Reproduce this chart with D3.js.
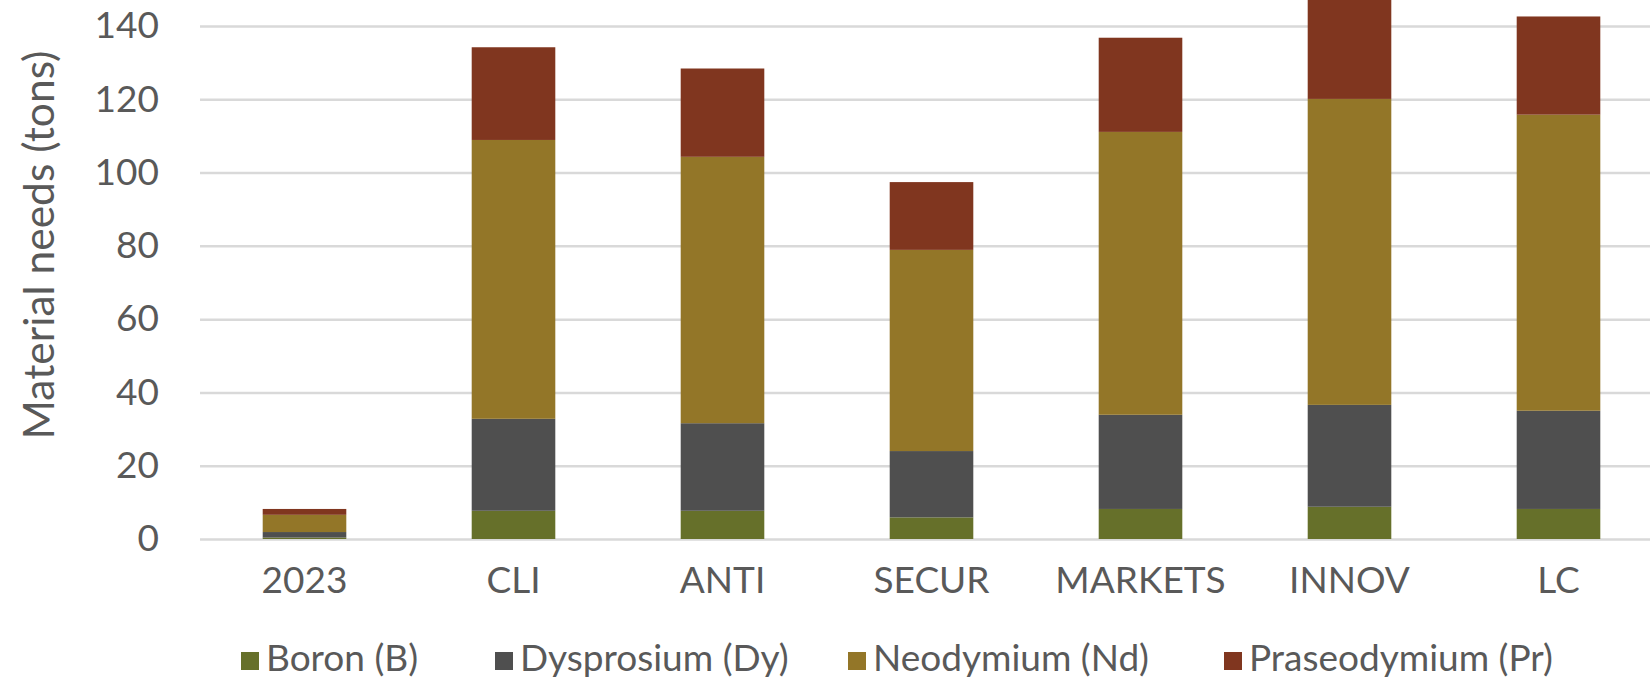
<!DOCTYPE html>
<html>
<head>
<meta charset="utf-8">
<script src="https://cdn.jsdelivr.net/npm/d3@7"></script>
<style>
  html, body { margin: 0; padding: 0; background: #fff; }
  svg { display: block; }
  text { font-family: Lato, "Open Sans", sans-serif; fill: #595959; }
</style>
</head>
<body>
<svg id="chart" width="1650" height="680"></svg>
<script>
// ---- data ----
const categories = ["2023", "CLI", "ANTI", "SECUR", "MARKETS", "INNOV", "LC"];
const seriesNames = ["Boron (B)", "Dysprosium (Dy)", "Neodymium (Nd)", "Praseodymium (Pr)"];
const boron        = [0.4, 7.7, 7.7, 5.9, 8.2, 8.8, 8.2];
const dysprosium   = [1.5, 25.1, 23.9, 18.1, 25.7, 27.8, 26.8];
const neodymium    = [4.7, 76.1, 72.7, 54.9, 77.2, 83.5, 80.8];
const praseodymium = [1.6, 25.3, 24.1, 18.5, 25.7, 28.0, 26.8];
const yTicks = [0, 20, 40, 60, 80, 100, 120, 140];
const colors = ["#66702a", "#4f4f4f", "#937628", "#80361f"];
const yTitle = "Material needs (tons)";

// ---- build table ----
const seriesValues = [boron, dysprosium, neodymium, praseodymium];
const keys = ["B", "Dy", "Nd", "Pr"];
const table = categories.map((c, i) => {
  const row = { cat: c };
  keys.forEach((k, j) => row[k] = seriesValues[j][i]);
  return row;
});
const stacked = d3.stack().keys(keys)(table);

const svg = d3.select("#chart");
const plotLeft = 200, plotRight = 1663, yZero = 539, yTop = 26;

const x = d3.scaleBand().domain(categories).range([plotLeft, plotRight])
  .paddingInner(0.6).paddingOuter(0.3);
const y = d3.scaleLinear().domain([0, 140]).range([yZero, yTop]);

// gridlines + y labels
const yAxis = svg.append("g")
  .attr("transform", `translate(${plotLeft},0)`)
  .call(d3.axisLeft(y).tickValues(yTicks).tickSize(-(plotRight - plotLeft)).tickPadding(41));
yAxis.select(".domain").remove();
yAxis.selectAll(".tick line").attr("stroke", "#d9d9d9").attr("stroke-width", 2.5);
yAxis.selectAll(".tick text").style("font-size", "37px").attr("fill", "#595959")
  .attr("font-family", "Lato");

// bars
svg.append("g").selectAll("g").data(stacked).join("g")
  .attr("fill", (d, i) => colors[i])
  .selectAll("rect").data(d => d).join("rect")
  .attr("x", d => x(d.data.cat))
  .attr("width", x.bandwidth())
  .attr("y", d => y(d[1]))
  .attr("height", d => y(d[0]) - y(d[1]));

// x labels
const xAxis = svg.append("g")
  .attr("transform", `translate(0,${yZero})`)
  .call(d3.axisBottom(x).tickSize(0).tickPadding(28));
xAxis.select(".domain").remove();
xAxis.selectAll(".tick text").style("font-size", "37px").attr("fill", "#595959")
  .attr("font-family", "Lato");

// y title
svg.append("text")
  .attr("transform", "translate(54,245) rotate(-90)")
  .attr("text-anchor", "middle")
  .style("font-size", "42.5px")
  .text(yTitle);

// legend
const legendX = [241, 495, 848, 1224];
const leg = svg.append("g").selectAll("g").data(seriesNames).join("g")
  .attr("transform", (d, i) => `translate(${legendX[i]},0)`);
leg.append("rect").attr("x", 0).attr("y", 652).attr("width", 18).attr("height", 18)
  .attr("fill", (d, i) => colors[i]);
leg.append("text").attr("x", 25).attr("y", 671).style("font-size", "37px").text(d => d);
</script>
</body>
</html>
